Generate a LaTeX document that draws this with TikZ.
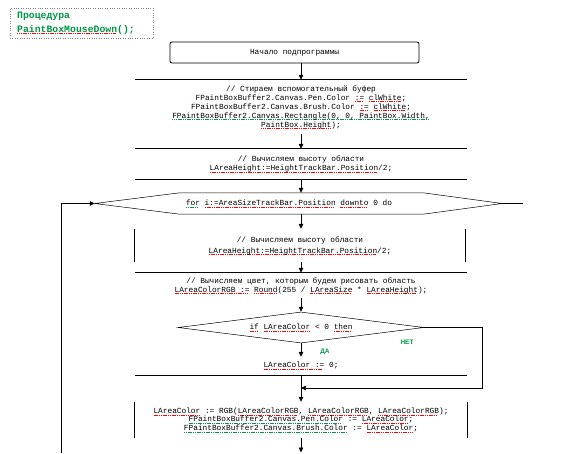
\documentclass[tikz,border=0pt]{standalone}
\usepackage{fontspec}
\setmainfont{Liberation Sans}
\setmonofont{Liberation Mono}
\usetikzlibrary{arrows.meta,shapes.geometric}
\definecolor{cgreen}{RGB}{0,150,70}
\newsavebox\sqbox
\newcommand\sqc[2]{\sbox\sqbox{#2}\rlap{\lower1.7pt\hbox to\wd\sqbox{\color{#1}\leaders\hbox{\rule{1.2pt}{0.45pt}\kern0.6pt}\hfill}}\usebox\sqbox}
\newcommand\sqr[1]{\sqc{red}{#1}}
\newcommand\sqg[1]{\sqc{cgreen}{#1}}
\tikzset{
  code/.style={font=\ttfamily\fontsize{7.8}{9}\selectfont, align=center, inner sep=0pt},
  frame/.style={code, minimum width=332pt},
  ln/.style={line width=0.75pt},
  thinln/.style={line width=0.5pt},
  arr/.style={ln, -{Triangle[length=5pt,width=4.5pt]}},
  lbl/.style={font=\rmfamily\bfseries\fontsize{6.5}{7}\selectfont, text=cgreen, inner sep=0pt}
}
\begin{document}
\begin{tikzpicture}[x=1pt,y=-1pt]
\useasboundingbox (0,0) rectangle (576,453);
% header
\node[draw=gray, dotted, minimum width=143pt, minimum height=30pt, inner sep=0pt] (hd) at (81.5,23) {};
\node[anchor=west, inner sep=0pt, font=\ttfamily\bfseries\fontsize{9.8}{11}\selectfont, text=cgreen] (h1) at (17,16) {Процедура};
\node[anchor=west, inner sep=0pt, font=\ttfamily\bfseries\fontsize{9.8}{11}\selectfont, text=cgreen] (h2) at (17,29.5) {\sqr{PaintBoxMouseDown}();};
% start
\node[draw, ln, rounded corners=2pt, code, minimum width=249pt, minimum height=21pt] (st) at (294.5,52.5) {Начало подпрограммы};
% box 2
\node[frame, minimum height=54pt] (b2) at (301,107) {// Стираем вспомогательный буфер\\
FPaintBoxBuffer2.Canvas.Pen.Color \sqr{:=} \sqr{clWhite};\\
FPaintBoxBuffer2.Canvas.Brush.Color \sqr{:=} \sqr{clWhite};\\
\sqg{FPaintBoxBuffer2.Canvas.Rectangle(0, 0, PaintBox.Width,}\\
\sqr{PaintBox.Height});};
\draw[ln] (b2.north west) -- (b2.north east);
% box 3
\node[frame, minimum height=30pt] (b3) at (301,164) {// Вычисляем высоту области\\
\sqr{LAreaHeight:=HeightTrackBar.Position}/2;};
\draw[ln] (b3.north west) -- (b3.north east);
\draw[ln] (b3.south west) -- (b3.south east);
% loop
\node[minimum width=407pt, minimum height=21pt, inner sep=0pt] (loop) at (298.5,203.5) {};
\node[code] (lt) at (289,203.5) {\sqg{for} \sqr{i:=AreaSizeTrackBar.Position} \sqr{downto} 0 do};
\draw[thinln] (loop.west) -- ([xshift=85pt]loop.north west) -- ([xshift=-79pt]loop.north east) -- (loop.east) -- ([xshift=-79pt]loop.south east) -- ([xshift=85pt]loop.south west) -- cycle;
% box 4
\node[code, minimum width=330pt, minimum height=33pt, execute at begin node={\setlength{\baselineskip}{11pt}}] (b4) at (300,245.5) {// Вычисляем высоту области\\
\sqr{LAreaHeight:=HeightTrackBar.Position}/2;};
\draw[ln] (b4.north west) -- (b4.south west);
\draw[ln] (b4.north east) -- (b4.south east);
% box 5
\node[frame, minimum height=25pt] (b5t) at (301,285.5) {// Вычисляем цвет, которым будем рисовать область\\
\sqr{LAreaColorRGB :=} \sqr{Round}(255 / \sqr{LAreaSize} * \sqr{LAreaHeight});};
\draw[ln] (b5t.north west) -- (b5t.north east);
\node[diamond, draw, thinln, code, minimum width=246pt, minimum height=31pt, aspect=8] (if) at (301,327.5) {\sqr{if} \sqr{LAreaColor} < 0 \sqr{then}};
\node[lbl] (da) at (325,352) {ДА};
\node[lbl] (net) at (407,342) {НЕТ};
\node[frame, minimum height=18pt] (b5b) at (301,366) {\sqr{LAreaColor :=} 0;};
\draw[ln] (b5b.south west) -- (b5b.south east);
% box 6
\node[frame, minimum height=36pt, execute at begin node={\setlength{\baselineskip}{8.7pt}}] (b6) at (301,420) {\sqr{LAreaColor} := RGB(\sqr{LAreaColorRGB}, \sqr{LAreaColorRGB}, \sqr{LAreaColorRGB});\\
\sqg{FPaintBoxBuffer2.Canvas.Pen.Color} := \sqr{LAreaColor};\\
\sqg{FPaintBoxBuffer2.Canvas.Brush.Color} := \sqr{LAreaColor};};
\draw[ln] (b6.north west) -- (b6.south west);
\draw[ln] (b6.north east) -- (b6.south east);
% coordinates
\coordinate (m) at (301,388);
\coordinate (nr) at (482,388);
\coordinate (e) at (301,452.5);
\coordinate (lb) at (61,453);
\coordinate (re) at (523,203.5);
% connectors
\draw[arr] (b2.north |- st.south) -- (b2.north);
\draw[arr] (b2.south) -- (b3.north);
\draw[arr] (b3.south) -- (b3.south |- loop.north);
\draw[arr] (b3.south |- loop.south) -- (b4.north -| b3.south);
\draw[arr] (b4.south -| b5t.north) -- (b5t.north);
\draw[arr] (b5t.south) -- (if.north);
\draw[arr] (if.south) -- (b5b.north);
\draw[arr] (if.east) -| (nr) -- (m);
\draw[ln] (b5b.south) -- (m);
\draw[arr] (m) -- (b6.north);
\draw[arr] (b6.south) -- (e);
\draw[arr] (lb) |- (loop.west);
\draw[ln] (loop.east) -- (re);
\end{tikzpicture}
\end{document}
